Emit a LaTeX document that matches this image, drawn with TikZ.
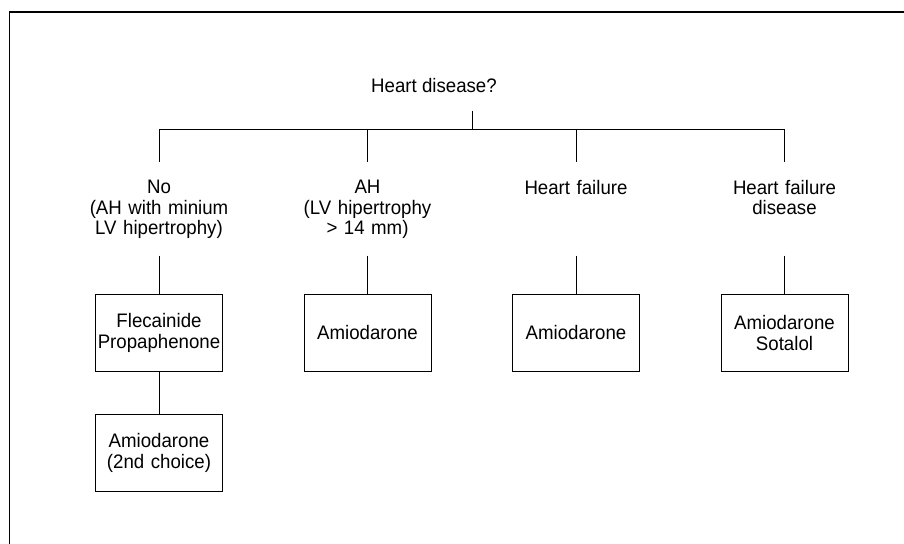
\documentclass[tikz,border=0pt]{standalone}
\usepackage{fontspec}
\setmainfont[FakeStretch=0.955]{Liberation Sans}
\usetikzlibrary{positioning}
\tikzstyle{question} = [inner sep=0pt, font=\fontsize{13.9}{14.6}\selectfont]
\tikzstyle{choice} = [text centered, text width=4.5cm, inner xsep=0pt, inner ysep=0.45cm, font=\fontsize{13.9}{14.6}\selectfont]
\tikzstyle{drug} = [rectangle, minimum width=3.175cm, minimum height=1.925cm, text centered, text width=3.1cm, inner xsep=0.0375cm, draw=black, line width=0.6pt, font=\fontsize{13.9}{14.6}\selectfont]
\tikzstyle{link} = [line width=0.6pt]

\begin{document}
\begin{tikzpicture}[node distance=5.2125cm]
\useasboundingbox (0,0) rectangle (22.6,-13.6);

%% FRAME

\draw [line width=1.1pt] (0.24,-13.6) -- (0.24,-0.3) -- (22.6,-0.3);

%% NODES

\node (heart) [question] at (10.85,-2.14) {Heart disease?};
\coordinate (stemtop) at (11.8,-2.768);
\coordinate (fork) at (11.8,-3.225);
\coordinate (b1) at (3.975,-3.225);
\coordinate [right of=b1] (b2);
\coordinate [right of=b2] (b3);
\coordinate [right of=b3] (b4);

\node (no) [choice, below=0.825cm of b1] {No\\(AH with minium\\LV hipertrophy)};
\node (ah) [choice, below=0.825cm of b2] {AH\\(LV hipertrophy\\> 14 mm)};
\node (hf) [choice, below=0.825cm of b3] {Heart failure};
\node (hfd) [choice, below=0.825cm of b4] {Heart failure\\disease};

\node (fleca) [drug, below=4.125cm of b1] {Flecainide\\Propaphenone};
\node (amio2) [drug, below=4.125cm of b2] {Amiodarone};
\node (amio3) [drug, below=4.125cm of b3] {Amiodarone};
\node (amiosot) [drug, below=4.125cm of b4] {Amiodarone\\Sotalol};
\node (amio1) [drug, below=1.05cm of fleca] {Amiodarone\\(2nd choice)};

\coordinate [above=0.96cm of fleca] (d1);
\coordinate [above=0.96cm of amio2] (d2);
\coordinate [above=0.96cm of amio3] (d3);
\coordinate [above=0.96cm of amiosot] (d4);

%% LINES

\draw [link] (stemtop) -- (fork);
\draw [link] (b1) -- (b4);
\draw [link] (b1) -- (no.north);
\draw [link] (b2) -- (ah.north);
\draw [link] (b3) -- (hf.north);
\draw [link] (b4) -- (hfd.north);
\draw [link] (d1) -- (fleca);
\draw [link] (d2) -- (amio2);
\draw [link] (d3) -- (amio3);
\draw [link] (d4) -- (amiosot);
\draw [link] (fleca) -- (amio1);

\end{tikzpicture}
\end{document}
